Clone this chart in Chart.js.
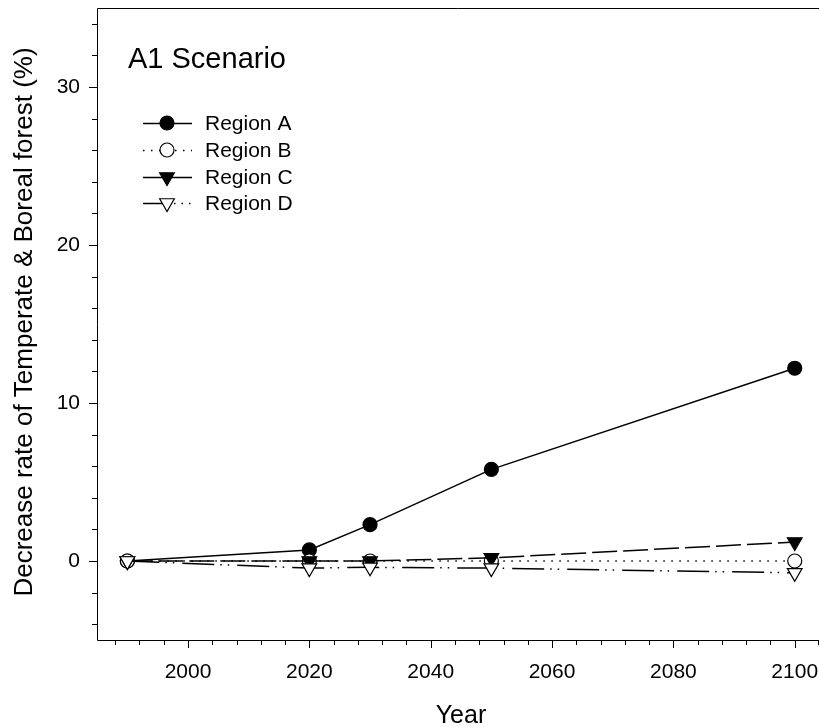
<!DOCTYPE html>
<html>
<head>
<meta charset="utf-8">
<script src="https://cdn.jsdelivr.net/npm/chart.js@4"></script>
<style>
  html, body { margin: 0; padding: 0; background: #ffffff; overflow: hidden; }
  canvas { display: block; }
</style>
</head>
<body>
<canvas id="chart" width="819" height="727"></canvas>
<script>
// Forest decrease rate under the A1 scenario, by region
const years = [1990, 2020, 2030, 2050, 2100];
const regionA = [0, 0.7, 2.3, 5.8, 12.2];
const regionB = [0, 0, 0, 0, 0];
const regionC = [0, 0, 0, 0.2, 1.2];
const regionD = [0, -0.45, -0.4, -0.45, -0.75];
const seriesNames = ['Region A', 'Region B', 'Region C', 'Region D'];
const xTickLabels = [2000, 2020, 2040, 2060, 2080, 2100];
const yTickLabels = [0, 10, 20, 30];
const panelTitle = 'A1 Scenario';
const xTitle = 'Year';
const yTitle = 'Decrease rate of Temperate & Boreal forest (%)';

const FONT = '"Liberation Sans", Arial, sans-serif';

function pts(values) {
  return years.map((y, i) => ({ x: y, y: values[i] }));
}

// styles per series: line dash, marker shape, marker fill
const styles = [
  { dash: [], shape: 'circle', fill: '#000000', radius: 7, rotation: 0 },
  { dash: [1.5, 6.5], shape: 'circle', fill: '#ffffff', radius: 7, rotation: 0 },
  { dash: [25, 6], shape: 'triangle', fill: '#000000', radius: 8.5, rotation: 180 },
  { dash: [32, 6, 1.5, 6, 1.5, 8], shape: 'triangle', fill: '#ffffff', radius: 8.5, rotation: 180 }
];
const seriesValues = [regionA, regionB, regionC, regionD];
// later regions sit on top of earlier ones
const drawOrder = [3, 2, 1, 0];

const datasets = seriesNames.map((name, i) => ({
  label: name,
  data: pts(seriesValues[i]),
  borderColor: '#000000',
  borderWidth: 1.5,
  borderDash: styles[i].dash,
  backgroundColor: styles[i].fill,
  pointStyle: styles[i].shape,
  pointRadius: styles[i].radius,
  pointRotation: styles[i].rotation,
  pointBackgroundColor: styles[i].fill,
  pointBorderColor: '#000000',
  pointBorderWidth: 1.2,
  tension: 0,
  order: drawOrder[i]
}));

function drawMarker(ctx, shape, x, y, r, rotDeg, fill) {
  ctx.save();
  ctx.setLineDash([]);
  ctx.beginPath();
  if (shape === 'circle') {
    ctx.arc(x, y, r, 0, Math.PI * 2);
  } else {
    let rad = rotDeg * Math.PI / 180;
    ctx.moveTo(x + Math.sin(rad) * r, y - Math.cos(rad) * r);
    rad += 2 * Math.PI / 3;
    ctx.lineTo(x + Math.sin(rad) * r, y - Math.cos(rad) * r);
    rad += 2 * Math.PI / 3;
    ctx.lineTo(x + Math.sin(rad) * r, y - Math.cos(rad) * r);
    ctx.closePath();
  }
  ctx.fillStyle = fill;
  ctx.fill();
  ctx.lineWidth = 1.2;
  ctx.strokeStyle = '#000000';
  ctx.stroke();
  ctx.restore();
}

const framePlugin = {
  id: 'frame',
  afterDatasetsDraw(chart) {
    const ctx = chart.ctx;
    const a = chart.chartArea;
    const xs = chart.scales.x;
    const ys = chart.scales.y;
    ctx.save();
    ctx.strokeStyle = '#000000';
    ctx.lineWidth = 1;
    ctx.setLineDash([]);
    // frame: left, bottom, top
    ctx.beginPath();
    ctx.moveTo(a.left + 0.5, a.top + 0.5);
    ctx.lineTo(a.left + 0.5, a.bottom + 0.5);
    ctx.lineTo(a.right, a.bottom + 0.5);
    ctx.moveTo(a.left + 0.5, a.top + 0.5);
    ctx.lineTo(a.right, a.top + 0.5);
    ctx.stroke();
    // y ticks (minor every 2, major every 10), pointing outward
    ctx.beginPath();
    for (let v = -4; v <= 34; v += 2) {
      const py = Math.round(ys.getPixelForValue(v)) + 0.5;
      const len = (v % 10 === 0) ? 8 : 5;
      ctx.moveTo(a.left, py);
      ctx.lineTo(a.left - len, py);
    }
    // x ticks (minor every 4 years, major every 20)
    for (let v = 1988; v <= 2104; v += 4) {
      const px = Math.min(Math.round(xs.getPixelForValue(v)), a.right - 1) + 0.5;
      const len = (v % 20 === 0) ? 8 : 5;
      ctx.moveTo(px, a.bottom);
      ctx.lineTo(px, a.bottom + len);
    }
    ctx.stroke();

    // panel title
    ctx.fillStyle = '#000000';
    ctx.font = '29px ' + FONT;
    ctx.textAlign = 'left';
    ctx.textBaseline = 'alphabetic';
    ctx.fillText(panelTitle, 128, 68);

    // legend
    ctx.font = '21px ' + FONT;
    const rows = [123, 150, 177, 203];
    seriesNames.forEach((name, i) => {
      const y = rows[i];
      ctx.save();
      ctx.lineWidth = 1.5;
      ctx.strokeStyle = '#000000';
      ctx.setLineDash(i === 1 ? [1.5, 6.5] : []);
      ctx.beginPath();
      if (i === 3) {
        ctx.moveTo(143, y + 0.5); ctx.lineTo(166, y + 0.5);
        ctx.stroke();
        ctx.setLineDash([1.5, 6]);
        ctx.beginPath();
        ctx.moveTo(174, y + 0.5); ctx.lineTo(192, y + 0.5);
      } else {
        ctx.moveTo(143, y + 0.5); ctx.lineTo(192, y + 0.5);
      }
      ctx.stroke();
      ctx.restore();
      drawMarker(ctx, styles[i].shape, 167, y, styles[i].radius, styles[i].rotation, styles[i].fill);
      ctx.fillStyle = '#000000';
      ctx.textBaseline = 'middle';
      ctx.fillText(name, 205, y + 1);
    });

    // axis titles
    ctx.textAlign = 'center';
    ctx.textBaseline = 'alphabetic';
    ctx.font = '25px ' + FONT;
    ctx.fillText(xTitle, 461, 723);
    ctx.font = '26px ' + FONT;
    ctx.save();
    ctx.translate(32, 322);
    ctx.rotate(-Math.PI / 2);
    ctx.fillText(yTitle, 0, 0);
    ctx.restore();
    ctx.restore();
  }
};

new Chart(document.getElementById('chart'), {
  type: 'line',
  data: { datasets },
  options: {
    responsive: false,
    animation: false,
    devicePixelRatio: 1,
    layout: { autoPadding: false, padding: { top: 8, right: 0, left: 0, bottom: 0 } },
    plugins: { legend: { display: false }, tooltip: { enabled: false } },
    scales: {
      x: {
        type: 'linear',
        min: 1985,
        max: 2104,
        grid: { display: false, drawTicks: false },
        border: { display: false },
        afterBuildTicks: (s) => { s.ticks = xTickLabels.map(v => ({ value: v })); },
        afterFit: (s) => {
          s.height = 87;
          s.paddingLeft = 0; s.paddingRight = 0;
        },
        ticks: {
          color: '#000000',
          font: { family: FONT, size: 21 },
          padding: 20,
          maxRotation: 0,
          autoSkip: false,
          callback: (v) => String(v)
        }
      },
      y: {
        type: 'linear',
        min: -5,
        max: 35,
        grid: { display: false, drawTicks: false },
        border: { display: false },
        afterBuildTicks: (s) => { s.ticks = yTickLabels.map(v => ({ value: v })); },
        afterFit: (s) => {
          s.width = 97;
          s.paddingTop = 0; s.paddingBottom = 0;
        },
        ticks: {
          color: '#000000',
          font: { family: FONT, size: 21 },
          padding: 17,
          autoSkip: false,
          callback: (v) => String(v)
        }
      }
    }
  },
  plugins: [framePlugin]
});
</script>
</body>
</html>
